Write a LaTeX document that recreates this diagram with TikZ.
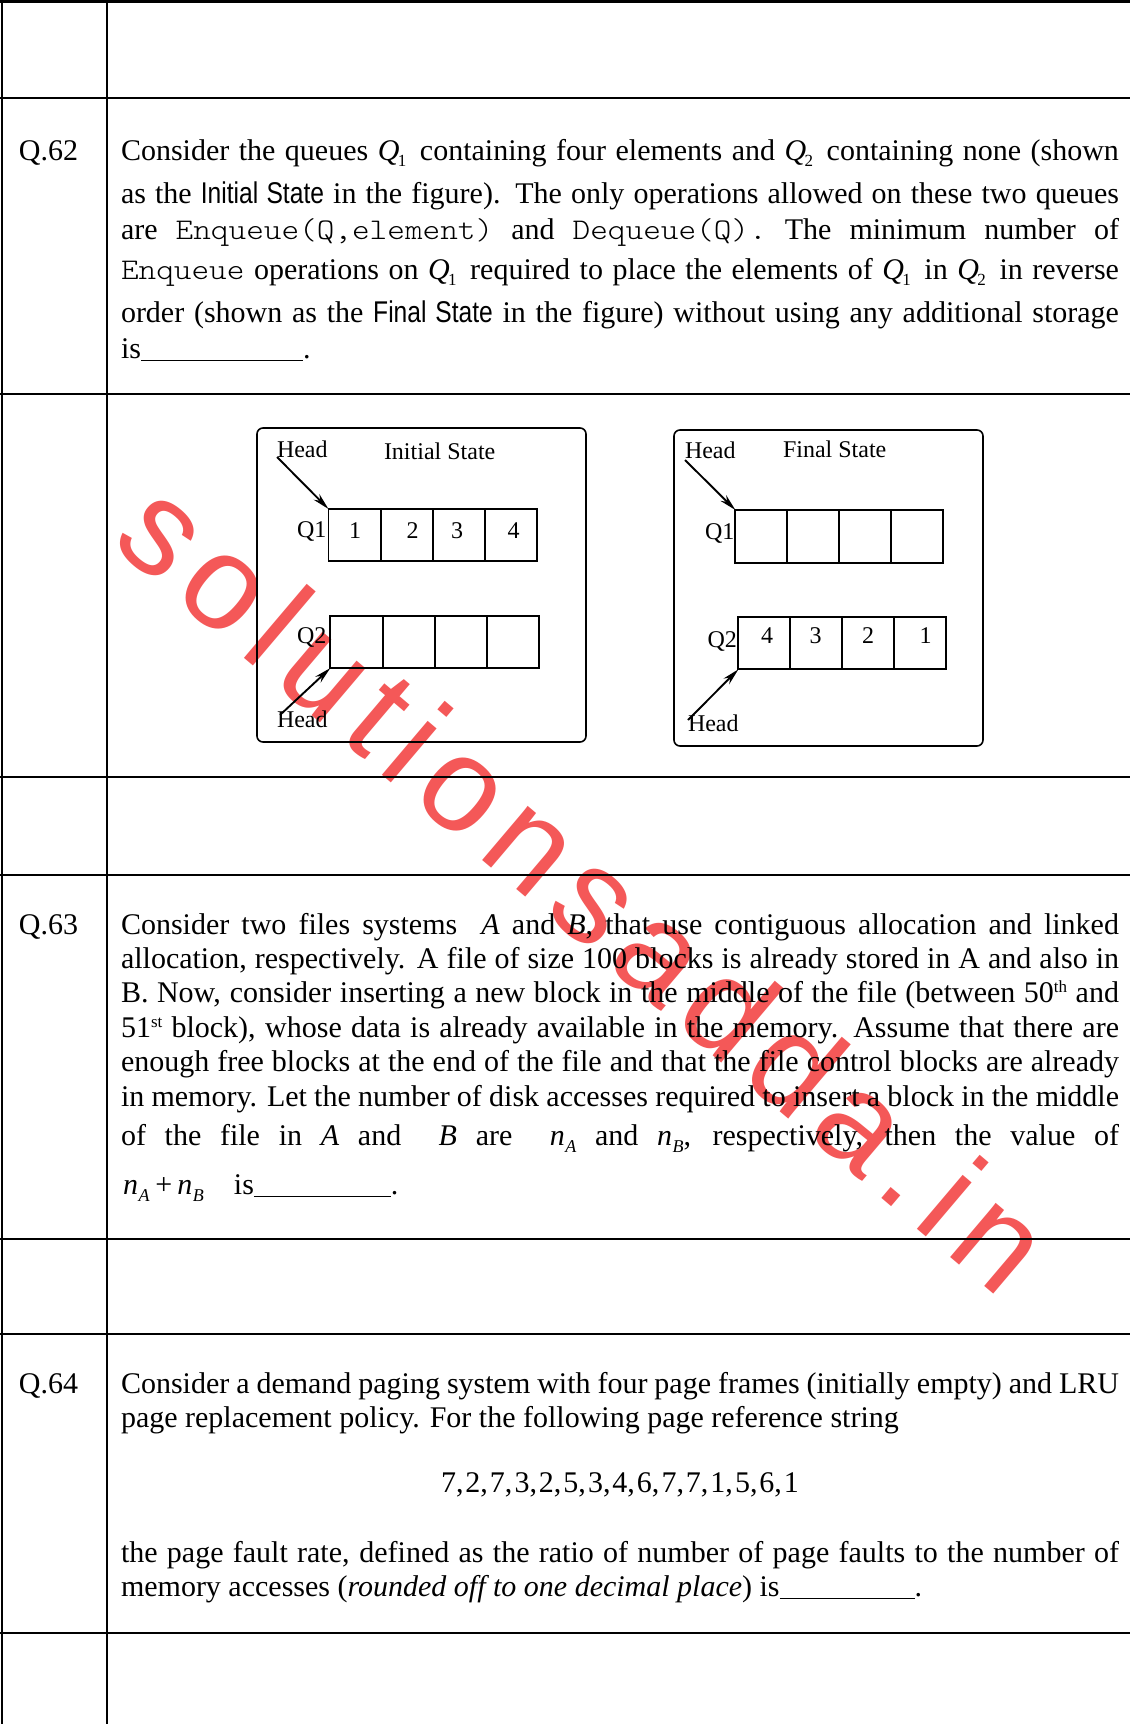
\documentclass[tikz,border=0pt]{standalone}
\usepackage{fontspec}
\setmainfont{Liberation Serif}
\newfontfamily\cour{lmmonolt10-regular}[Extension=.otf,FakeStretch=1.12]
\newfontfamily\narrowsans[FakeStretch=0.82]{Liberation Sans}
\newfontfamily\wmfont[LetterSpace=10]{Liberation Sans}
\usetikzlibrary{arrows.meta}
\definecolor{wmred}{RGB}{244,88,88}
\newcommand\Qs[1]{\textit{Q}\kern-1.5pt\raisebox{-6pt}{\fontsize{17}{17}\selectfont #1}\kern4pt\relax}
\newcommand\nsub[1]{\textit{n}\kern0.5pt\raisebox{-7pt}{\fontsize{18}{18}\selectfont\itshape #1}}
\newcommand\sups[1]{\raisebox{10pt}{\fontsize{17}{17}\selectfont #1}}
\newcommand\mono[1]{{\cour\fontsize{30}{31}\selectfont #1}}
\newcommand\nar[1]{{\narrowsans\fontsize{30}{31}\selectfont #1}}
\newcommand\jline[1]{\makebox[998pt][s]{#1}}
\begin{document}
\begin{tikzpicture}[x=1pt,y=-1pt,
  every node/.style={inner sep=0pt,outer sep=0pt},
  body/.style={anchor=base west,font=\fontsize{30}{34}\selectfont},
  diag/.style={anchor=base west,font=\fontsize{24}{24}\selectfont},
  hrule/.style={line width=2.6pt},
  vrule/.style={line width=1.5pt},
  frame/.style={draw,line width=1.6pt,rounded corners=6pt,anchor=north west},
  cell/.style={draw,line width=1.9pt,minimum width=52.2pt,minimum height=52.4pt,anchor=north west},
  ptr/.style={line width=1.9pt,-{Stealth[length=17pt,width=8pt]}}
]
\useasboundingbox (0,0) rectangle (1130,1724);
\fill[white] (0,0) rectangle (1130,1724);

% watermark
\node[rotate=-40.3,text=wmred,font=\wmfont\fontsize{134}{134}\selectfont] (wm) at (586,885) {solutionsadda.in};

% table rules
\foreach \yy in {1.3,98,394,777,875,1239,1334,1633}
  \draw[hrule] (0,\yy) -- (1130,\yy);
\draw[vrule] (2,0) -- (2,1724);
\draw[vrule] (107,0) -- (107,1724);

% Q.62
\node[body] (q62) at (19,160.5) {Q.62};
\node[body] (t62a) at (121,160.5) {\jline{Consider the queues \Qs{1} containing four elements and \Qs{2} containing none (shown}};
\node[body] (t62b) at (121,203) {\jline{as the \nar{Initial State} in the figure). The only operations allowed on these two queues}};
\node[body] (t62c) at (121,239) {\jline{are \mono{Enqueue(Q,element)} and \mono{Dequeue(Q).} The minimum number of}};
\node[body] (t62d) at (121,279.5) {\jline{\mono{Enqueue} operations on \Qs{1} required to place the elements of \Qs{1} in \Qs{2} in reverse}};
\node[body] (t62e) at (121,322) {\jline{order (shown as the \nar{Final State} in the figure) without using any additional storage}};
\node[body] (t62f) at (121,358) {is\rule[-3pt]{162pt}{0.9pt}.};

% diagram: initial state
\node[frame,minimum width=329pt,minimum height=314pt] (boxI) at (257,428) {};
\node[diag] (hdIa) at (277,457) {Head};
\node[diag] (titI) at (384,459) {Initial State};
\node[diag] (qIa) at (297,537) {Q1};
\node[diag] (qIb) at (297,643) {Q2};
\node[diag] (hdIb) at (277,727) {Head};
\node[cell] (a1) at (328.5,509) {};
\node[cell] (a2) at (380.7,509) {};
\node[cell] (a3) at (432.9,509) {};
\node[cell] (a4) at (485.1,509) {};
\node[cell,minimum height=52pt] (b1) at (330.4,616) {};
\node[cell,minimum height=52pt] (b2) at (382.6,616) {};
\node[cell,minimum height=52pt] (b3) at (434.8,616) {};
\node[cell,minimum height=52pt] (b4) at (487.0,616) {};
\node[diag,anchor=base] (va1) at (355,538) {1};
\node[diag,anchor=base] (va2) at (412.5,538) {2};
\node[diag,anchor=base] (va3) at (457,538) {3};
\node[diag,anchor=base] (va4) at (513.5,538) {4};
\coordinate (pIa) at (277,457);
\coordinate (pIb) at (280,715);
\draw[ptr] (pIa) -- (a1.north west);
\draw[ptr] (pIb) -- (b1.south west);

% diagram: final state
\node[frame,minimum width=309pt,minimum height=316pt] (boxF) at (674,430) {};
\node[diag] (hdFa) at (685,458) {Head};
\node[diag] (titF) at (783,457) {Final State};
\node[diag] (qFa) at (705,539) {Q1};
\node[diag] (qFb) at (707.5,647) {Q2};
\node[diag] (hdFb) at (688,731) {Head};
\node[cell,minimum width=52pt,minimum height=52.7pt] (c1) at (735.4,510) {};
\node[cell,minimum width=52pt,minimum height=52.7pt] (c2) at (787.4,510) {};
\node[cell,minimum width=52pt,minimum height=52.7pt] (c3) at (839.4,510) {};
\node[cell,minimum width=52pt,minimum height=52.7pt] (c4) at (891.4,510) {};
\node[cell,minimum width=52pt,minimum height=52.6pt] (d1) at (738.4,616.7) {};
\node[cell,minimum width=52pt,minimum height=52.6pt] (d2) at (790.4,616.7) {};
\node[cell,minimum width=52pt,minimum height=52.6pt] (d3) at (842.4,616.7) {};
\node[cell,minimum width=52pt,minimum height=52.6pt] (d4) at (894.4,616.7) {};
\node[diag,anchor=base] (vd1) at (767,643) {4};
\node[diag,anchor=base] (vd2) at (815.5,643) {3};
\node[diag,anchor=base] (vd3) at (868,643) {2};
\node[diag,anchor=base] (vd4) at (925.5,643) {1};
\coordinate (pFa) at (685,460);
\coordinate (pFb) at (688,720);
\draw[ptr] (pFa) -- (c1.north west);
\draw[ptr] (pFb) -- (d1.south west);

% Q.63
\node[body] (q63) at (19,934) {Q.63};
\node[body] (t63a) at (121,934) {\jline{Consider two files systems \ \textit{A} and \textit{B}, that use contiguous allocation and linked}};
\node[body] (t63b) at (121,968) {\jline{allocation, respectively. A file of size 100 blocks is already stored in A and also in}};
\node[body] (t63c) at (121,1002.5) {\jline{B. Now, consider inserting a new block in the middle of the file (between 50\sups{th} and}};
\node[body] (t63d) at (121,1037.5) {\jline{51\sups{st} block), whose data is already available in the memory. Assume that there are}};
\node[body] (t63e) at (121,1071.5) {\jline{enough free blocks at the end of the file and that the file control blocks are already}};
\node[body] (t63f) at (121,1106) {\jline{in memory. Let the number of disk accesses required to insert a block in the middle}};
\node[body] (t63g) at (121,1145.5) {\jline{of the file in \textit{A} and \ \textit{B} are \ \nsub{A} and \nsub{B}, respectively, then the value of}};
\node[body] (t63h) at (123,1194) {\nsub{A}\kern6pt+\kern5pt\nsub{B}\hspace{30pt}is\rule[-3pt]{137pt}{0.9pt}.};

% Q.64
\node[body] (q64) at (19,1393.5) {Q.64};
\node[body] (t64a) at (121,1393.5) {\jline{Consider a demand paging system with four page frames (initially empty) and LRU}};
\node[body] (t64b) at (121,1427.5) {page replacement policy. For the following page reference string};
\node[body,anchor=base] (t64c) at (620,1492) {7,\kern2pt 2,\kern2pt 7,\kern2pt 3,\kern2pt 2,\kern2pt 5,\kern2pt 3,\kern2pt 4,\kern2pt 6,\kern2pt 7,\kern2pt 7,\kern2pt 1,\kern2pt 5,\kern2pt 6,\kern2pt 1};
\node[body] (t64d) at (121,1562) {\jline{the page fault rate, defined as the ratio of number of page faults to the number of}};
\node[body] (t64e) at (121,1596) {memory accesses (\textit{rounded off to one decimal place}) is\rule[-3pt]{135pt}{0.9pt}.};
\end{tikzpicture}
\end{document}
